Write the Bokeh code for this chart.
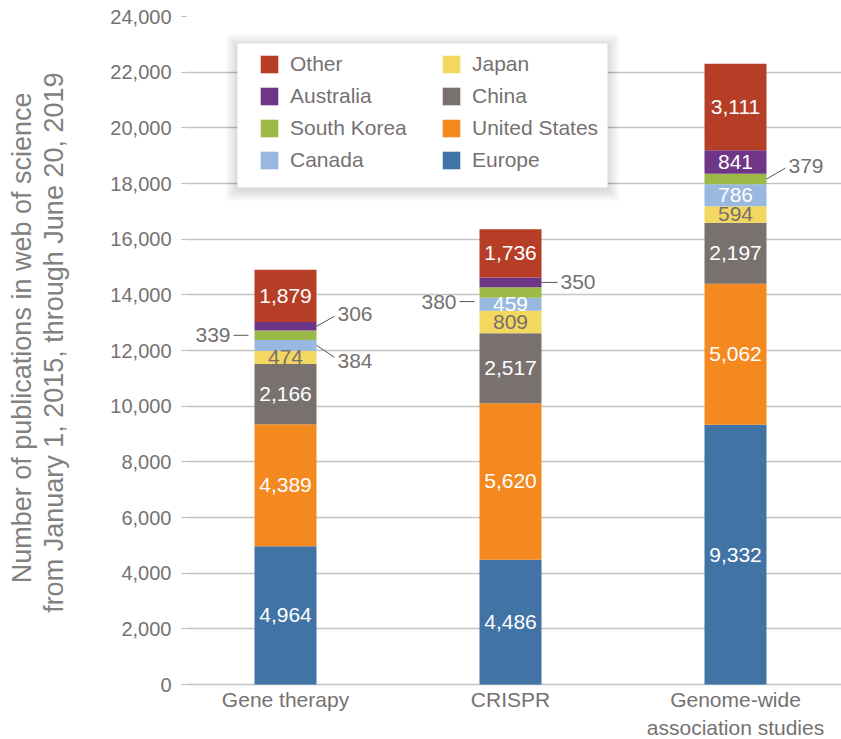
from bokeh.plotting import figure
from bokeh.models import (ColumnDataSource, Legend, LegendItem, FixedTicker, Range1d,
                          NumeralTickFormatter, BoxAnnotation, Title)
from bokeh.core.properties import value
from bokeh.embed import file_html
from bokeh.resources import INLINE

# ---------------- data ----------------
categories = ["Gene therapy", "CRISPR", "Genome-wide\nassociation studies"]
regions = ["Europe", "United States", "China", "Japan", "Canada",
           "South Korea", "Australia", "Other"]
europe = [4964, 4486, 9332]
united_states = [4389, 5620, 5062]
china = [2166, 2517, 2197]
japan = [474, 809, 594]
canada = [384, 459, 786]
south_korea = [339, 380, 379]
australia = [306, 350, 841]
other = [1879, 1736, 3111]
y_ticks = [0, 2000, 4000, 6000, 8000, 10000, 12000, 14000, 16000, 18000,
           20000, 22000, 24000]
y_title_lines = ["Number of publications in web of science",
                 "from January 1, 2015, through June 20, 2019"]

series = {"Europe": europe, "United States": united_states, "China": china,
          "Japan": japan, "Canada": canada, "South Korea": south_korea,
          "Australia": australia, "Other": other}

# ---------------- style ----------------
colors = {"Europe": "#4173a4", "United States": "#f3891f", "China": "#787170",
          "Japan": "#f3d860", "Canada": "#98b8df", "South Korea": "#9db947",
          "Australia": "#6f3688", "Other": "#b63e27"}
label_colors = {"Japan": "#77706f"}
GRAY = "#767171"
FONT = "Liberation Sans"

# labels outside the bars: (category index, region) -> (side, dx px, text dy px, line-start dy px, gap px)
outside = {(0, "Canada"): (1, 18, 12, 0, 0), (0, "South Korea"): (-1, 15, 0, 0, 6),
           (0, "Australia"): (1, 18, -10, 0, 0), (1, "South Korea"): (-1, 15, 9, 9, 5),
           (1, "Australia"): (1, 16, 0, 0, 0), (2, "South Korea"): (1, 19, -11, 0, 0)}

W, H = 841, 739
LEFT, TOP = 186, 16
ZERO_Y = 684            # canvas y of the value 0
frame_w = W - LEFT
frame_h = H - TOP       # frame reaches the bottom; labels drawn under value 0
px_x = 225.0
x_start = 1 - (285 - LEFT) / px_x
x_end = x_start + frame_w / px_x
px_y = (ZERO_Y - TOP) / 24000.0
y_start = -(H - ZERO_Y) / px_y
bar_w = 62 / px_x

p = figure(width=W, height=H, output_backend="svg", toolbar_location=None,
           x_range=Range1d(x_start, x_end), y_range=Range1d(y_start, 24000),
           min_border_left=LEFT, min_border_right=0, min_border_top=TOP,
           min_border_bottom=0)
p.outline_line_color = None
p.background_fill_color = "white"

xs = [1, 2, 3]
bottoms = [0, 0, 0]
renderers = {}
lab_x, lab_y, lab_t, lab_c = [], [], [], []
out_x, out_y, out_t, out_align = [], [], [], []
seg_x0, seg_y0, seg_x1, seg_y1 = [], [], [], []
for reg in regions:
    vals = series[reg]
    tops = [b + v for b, v in zip(bottoms, vals)]
    src = ColumnDataSource(dict(x=xs, bottom=bottoms, top=tops))
    renderers[reg] = p.vbar(x="x", bottom="bottom", top="top", width=bar_w,
                            source=src, fill_color=colors[reg], line_color=None)
    for i, (b, v) in enumerate(zip(bottoms, vals)):
        mid = b + v / 2.0
        txt = f"{v:,}"
        if (i, reg) in outside:
            side, dx, dy, dy0, gap = outside[(i, reg)]
            x0 = xs[i] + side * (bar_w / 2 + gap / px_x)
            x1 = x0 + side * dx / px_x
            y1 = mid - dy / px_y
            y0 = mid - dy0 / px_y
            seg_x0.append(x0); seg_y0.append(y0)
            seg_x1.append(x1); seg_y1.append(y1)
            out_x.append(x1 + side * 3 / px_x)
            out_y.append(y1 - (4 if dy > dy0 else -2 if dy < dy0 else 0) / px_y)
            out_t.append(txt)
            out_align.append("left" if side > 0 else "right")
        else:
            lab_x.append(xs[i]); lab_y.append(mid); lab_t.append(txt)
            lab_c.append(label_colors.get(reg, "white"))
    bottoms = tops

p.text(x=lab_x, y=lab_y, text=lab_t, text_color=lab_c, text_align="center",
       text_baseline="middle", text_font=value(FONT), text_font_size="21px")
p.segment(x0=seg_x0, y0=seg_y0, x1=seg_x1, y1=seg_y1, line_color="#555555",
          line_width=1)
p.text(x=out_x, y=out_y, text=out_t, text_align=out_align,
       text_baseline="middle", text_color=GRAY, text_font=value(FONT),
       text_font_size="21px")

# category labels under the zero line
p.text(x=xs, y=[0] * len(xs), text=categories, text_align="center",
       text_baseline="top", y_offset=3, text_color=GRAY, text_font=value(FONT),
       text_font_size="21px", text_line_height=1.25)

# y axis
p.yaxis.ticker = FixedTicker(ticks=y_ticks)
p.yaxis.formatter = NumeralTickFormatter(format="0,0")
p.yaxis.axis_line_color = None
p.yaxis.major_tick_line_color = "#b8b8b8"
p.yaxis.major_tick_out = 5
p.yaxis.major_tick_in = 0
p.yaxis.minor_tick_line_color = None
p.yaxis.major_label_standoff = 10
p.yaxis.major_label_text_font = FONT
p.yaxis.major_label_text_font_size = "20px"
p.yaxis.major_label_text_color = GRAY

# spacer between tick labels and the two-line y title
p.add_layout(Title(text=" ", text_font_size="1px", standoff=36), "left")
# two-line y title: second line closest to the axis
for line, off in [(y_title_lines[1], 56), (y_title_lines[0], 76)]:
    p.add_layout(Title(text=line, align="right", offset=off, standoff=0,
                       text_font=FONT, text_font_size="27px", text_font_style="normal",
                       text_color="#838080"), "left")

p.xaxis.visible = False
p.xgrid.grid_line_color = None
p.ygrid.grid_line_color = "#c4c4c4"
p.ygrid.grid_line_width = 1.5

# legend box with soft shadow (screen units from the frame's bottom-left)
FB = H
bx_l, bx_r, bx_t, bx_b = 237 - LEFT, 607 - LEFT, FB - 43, FB - 187
for k in range(12, 0, -1):
    p.add_layout(BoxAnnotation(left=bx_l - k, right=bx_r + k, top=bx_t + k - 2,
                               bottom=bx_b - k - 2,
                               left_units="screen", right_units="screen",
                               top_units="screen", bottom_units="screen",
                               fill_color="black", fill_alpha=0.012, line_color=None,
                               level="annotation"))
p.add_layout(BoxAnnotation(left=bx_l, right=bx_r, top=bx_t, bottom=bx_b,
                           left_units="screen", right_units="screen",
                           top_units="screen", bottom_units="screen",
                           fill_color="white", fill_alpha=1.0, line_color="#eeeeee",
                           level="annotation"))

order = ["Other", "Australia", "South Korea", "Canada", "Japan", "China",
         "United States", "Europe"]
leg_h = 4 * 22 + 3 * 8
legend = Legend(items=[LegendItem(label=r, renderers=[renderers[r]]) for r in order],
                location=(258 - LEFT, FB - 60 - leg_h), ncols=2,
                glyph_width=22, glyph_height=22, label_height=22,
                label_width=142, label_standoff=10, spacing=8, padding=0,
                margin=0, border_line_color=None, background_fill_alpha=0.0,
                label_text_font=FONT, label_text_font_size="21px",
                label_text_color=GRAY)
p.add_layout(legend, "center")

open("out.html", "w").write(file_html(p, INLINE))
